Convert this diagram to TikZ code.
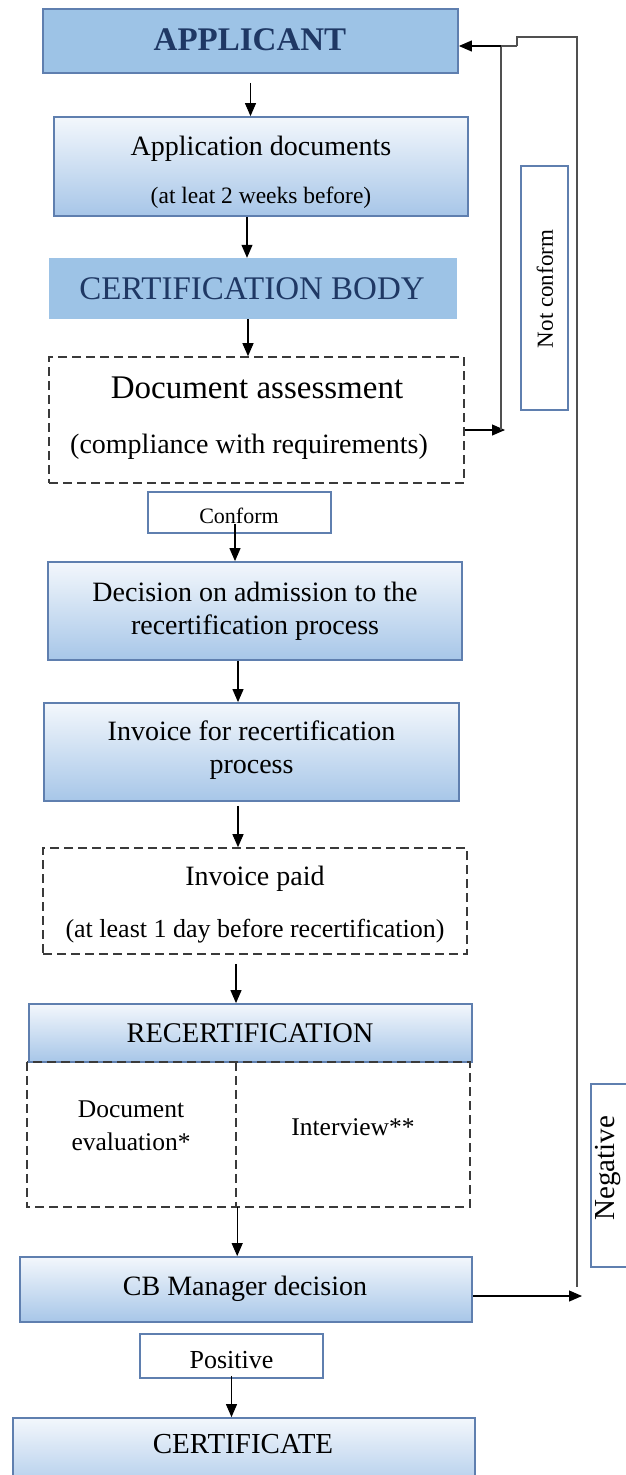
\documentclass[tikz,border=0pt]{standalone}
\usepackage{fontspec}
\setmainfont{Liberation Serif}
\usetikzlibrary{arrows.meta,calc}
\definecolor{navy}{HTML}{1F3864}
\definecolor{bluefill}{HTML}{9DC3E6}
\definecolor{boxborder}{HTML}{5F7FAF}
\definecolor{gradtop}{HTML}{F3F7FC}
\definecolor{gradbot}{HTML}{A7C6E8}
\definecolor{dashgray}{HTML}{3A3A3A}
\definecolor{linegray}{HTML}{505050}
\newcommand{\fsz}[1]{\fontsize{#1}{#1}\selectfont}
\tikzset{
  box/.style={rectangle, inner sep=0pt, anchor=center},
  gradbox/.style={box, draw=boxborder, line width=1.8pt, top color=gradtop, bottom color=gradbot},
  appbox/.style={box, draw=boxborder, line width=1.8pt, fill=bluefill},
  flatbox/.style={box, fill=bluefill},
  dashline/.style={draw=dashgray, line width=1.6pt, dash pattern=on 9pt off 5pt},
  dashbox/.style={box, dashline},
  labelbox/.style={box, draw=boxborder, line width=1.6pt, fill=white},
  txt/.style={inner sep=0pt, anchor=base},
  vtxt/.style={inner sep=0pt, anchor=center, rotate=90},
  flow/.style={draw=black, line width=1.1pt, -{Triangle[length=13pt,width=11pt]}},
  back/.style={draw=linegray, line width=1.1pt}
}
\begin{document}
\begin{tikzpicture}[x=1pt,y=-1pt]
\useasboundingbox (0,0) rectangle (626,1475);
% boxes
\node[appbox, minimum width=415pt, minimum height=64pt] (app) at (250.5,41) {};
\node[gradbox, minimum width=414pt, minimum height=99pt] (docs) at (261,166.5) {};
\node[flatbox, minimum width=408pt, minimum height=61pt] (cb) at (253,288.5) {};
\node[dashbox, minimum width=415pt, minimum height=126pt] (assess) at (256.5,420) {};
\node[labelbox, minimum width=183pt, minimum height=41pt] (conform) at (239.5,512.5) {};
\node[gradbox, minimum width=414pt, minimum height=98pt] (decision) at (255,611) {};
\node[gradbox, minimum width=415pt, minimum height=98pt] (invoice) at (251.5,752) {};
\node[dashbox, minimum width=424pt, minimum height=106pt] (paid) at (255,901) {};
\node[gradbox, minimum width=443pt, minimum height=58pt] (recert) at (250.5,1033) {};
\node[box, minimum width=209pt, minimum height=145pt] (evalbox) at (131.5,1134.5) {};
\node[box, minimum width=234pt, minimum height=145pt] (interviewbox) at (353,1134.5) {};
\draw[dashline] (evalbox.north west) rectangle (interviewbox.south east);
\draw[dashline] (evalbox.north east) -- (evalbox.south east);
\node[gradbox, minimum width=452pt, minimum height=65pt] (manager) at (246,1289.5) {};
\node[labelbox, minimum width=183pt, minimum height=44pt] (positive) at (231.5,1356) {};
\node[gradbox, minimum width=462pt, minimum height=80pt] (certificate) at (244,1458) {};
\node[labelbox, minimum width=47pt, minimum height=244pt] (notconform) at (544.5,288) {};
\node[labelbox, minimum width=69pt, minimum height=183pt] (negative) at (625.5,1175.5) {};
% texts
\node[txt, text=navy, font=\fsz{33}\bfseries] (tapp) at (250,50) {APPLICANT};
\node[txt, font=\fsz{28}] (tdocs1) at (261,155) {Application documents};
\node[txt, font=\fsz{23.5}] (tdocs2) at (261,203) {(at leat 2 weeks before)};
\node[txt, text=navy, font=\fsz{33}] (tcb) at (252,299) {CERTIFICATION BODY};
\node[txt, font=\fsz{33}] (tassess1) at (257,398) {Document assessment};
\node[txt, font=\fsz{28}] (tassess2) at (249,453) {(compliance with requirements)};
\node[txt, font=\fsz{22}] (tconform) at (239,523) {Conform};
\node[txt, font=\fsz{28}] (tdec1) at (255,601) {Decision on admission to the};
\node[txt, font=\fsz{28}] (tdec2) at (255,634) {recertification process};
\node[txt, font=\fsz{28}] (tinv1) at (251.5,740) {Invoice for recertification};
\node[txt, font=\fsz{28}] (tinv2) at (251.5,773) {process};
\node[txt, font=\fsz{28}] (tpaid1) at (255,885) {Invoice paid};
\node[txt, font=\fsz{26}] (tpaid2) at (255,937) {(at least 1 day before recertification)};
\node[txt, font=\fsz{28.5}] (trecert) at (250,1042) {RECERTIFICATION};
\node[txt, font=\fsz{25.5}] (teval1) at (131,1117) {Document};
\node[txt, font=\fsz{25.5}] (teval2) at (131,1150) {evaluation*};
\node[txt, font=\fsz{25.5}] (tinterview) at (353,1135) {Interview**};
\node[txt, font=\fsz{28}] (tmanager) at (245,1295) {CB Manager decision};
\node[txt, font=\fsz{26}] (tpositive) at (231.5,1368) {Positive};
\node[txt, font=\fsz{29}] (tcert) at (243,1453) {CERTIFICATE};
\node[vtxt, font=\fsz{23}] (tnotconform) at (545,289) {Not conform};
\node[vtxt, font=\fsz{29}] (tnegative) at (608,1168) {Negative};
% main flow
\draw[flow] ([yshift=-9pt]app.south) -- (app.south |- docs.north);
\draw[flow] ([xshift=-14pt]docs.south) -- ([xshift=-14pt]docs.south |- cb.north);
\draw[flow] ([xshift=-5pt]cb.south) -- ([xshift=-5pt]cb.south |- assess.north);
\draw[flow] ([xshift=-4.5pt,yshift=10pt]conform.south) -- ([xshift=-4.5pt]conform.south |- decision.north);
\draw[flow] ([xshift=-17pt]decision.south) -- ([xshift=-17pt]decision.south |- invoice.north);
\draw[flow] ([xshift=-13.5pt,yshift=-4pt]invoice.south) -- ([xshift=-13.5pt]invoice.south |- paid.north);
\draw[flow] ([xshift=-19pt,yshift=-9pt]paid.south) -- ([xshift=-19pt]paid.south |- recert.north);
\draw[flow] ([xshift=1pt]evalbox.south east) -- ([xshift=1pt]evalbox.south east |- manager.north);
\draw[flow] ([yshift=3pt]positive.south) -- (positive.south |- certificate.north);
% not conform loop
\coordinate (j1) at (501,430);
\coordinate (j2) at (501,46);
\coordinate (j3) at (517,46);
\coordinate (j4) at (517,37);
\coordinate (j5) at (577,37);
\coordinate (j6) at (577,1287);
\coordinate (n1) at (582,1296);
\draw[flow] (assess.east |- j1) -- ([xshift=4pt]j1);
\draw[back] (j1) -- (j2);
\draw[back] (j3) -- (j4) -- (j5) -- (j6);
\draw[back] (j3) -- (j2);
\draw[flow] (j2) -- (app.east |- j2);
% negative
\draw[flow] (manager.east |- n1) -- (n1);
\end{tikzpicture}
\end{document}
